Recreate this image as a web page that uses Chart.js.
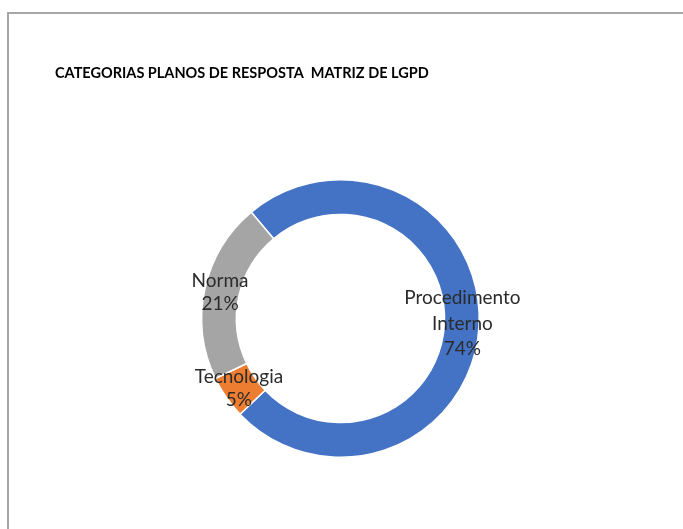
<!DOCTYPE html>
<html>
<head>
<meta charset="utf-8">
<script src="https://cdn.jsdelivr.net/npm/chart.js@4"></script>
<style>
  html, body { margin: 0; padding: 0; background: #fff; }
  #frame {
    position: absolute; left: 7px; top: 12px;
    width: 720px; height: 560px;
    border-left: 2px solid #a6a6a6;
    border-top: 2px solid #a6a6a6;
  }
  #chart { position: absolute; left: 0; top: 0; }
</style>
</head>
<body>
<div id="frame"></div>
<canvas id="chart" width="683" height="529"></canvas>
<script>
// Plan categories (clockwise from the start angle)
const categories = ["Procedimento Interno", "Tecnologia", "Norma"];
const shares = [74, 5, 21];
const sliceColors = ["#4472C4", "#ED7D31", "#A5A5A5"];
// how each label wraps inside its slice
const labelLines = [["Procedimento", "Interno"], ["Tecnologia"], ["Norma"]];
// small x/y nudges off the slice centre point
const labelNudge = [[0.7, 4.7], [-1.6, 7], [-1.8, 5.6]];

const chartTitle = "CATEGORIAS PLANOS DE RESPOSTA  MATRIZ DE LGPD";

// Title and slice labels drawn on the canvas
const textPlugin = {
    id: "textPlugin",
    afterDatasetsDraw(chart) {
        const ctx = chart.ctx;
        ctx.save();

        ctx.fillStyle = "#000";
        ctx.font = "bold 14.5px Lato";
        ctx.textAlign = "left";
        ctx.textBaseline = "middle";
        ctx.fillText(chartTitle, 55, 73);

        const meta = chart.getDatasetMeta(0);
        const total = shares.reduce((a, b) => a + b, 0);
        ctx.fillStyle = "#2b2b2b";
        ctx.font = "19px Lato";
        ctx.textAlign = "center";
        ctx.textBaseline = "alphabetic";

        meta.data.forEach((arc, i) => {
            const pos = arc.tooltipPosition();
            const lines = labelLines[i].concat([Math.round(shares[i] / total * 100) + "%"]);
            const lineH = lines.length > 2 ? 25.5 : 23.5;
            const x = pos.x + labelNudge[i][0];
            const first = pos.y + labelNudge[i][1] - (lines.length - 1) * lineH / 2;
            lines.forEach((t, j) => ctx.fillText(t, x, first + j * lineH));
        });

        ctx.restore();
    }
};

new Chart(document.getElementById("chart"), {
    type: "doughnut",
    data: {
        labels: categories,
        datasets: [{
            data: shares,
            backgroundColor: sliceColors,
            borderColor: "#fff",
            borderWidth: 1.5
        }]
    },
    options: {
        responsive: false,
        animation: false,
        rotation: -40,
        cutout: "75%",
        layout: {
            padding: { top: 179, bottom: 71, left: 201, right: 203 }
        },
        plugins: {
            legend: { display: false },
            tooltip: { enabled: false },
            title: { display: false }
        }
    },
    plugins: [textPlugin]
});
</script>
</body>
</html>
